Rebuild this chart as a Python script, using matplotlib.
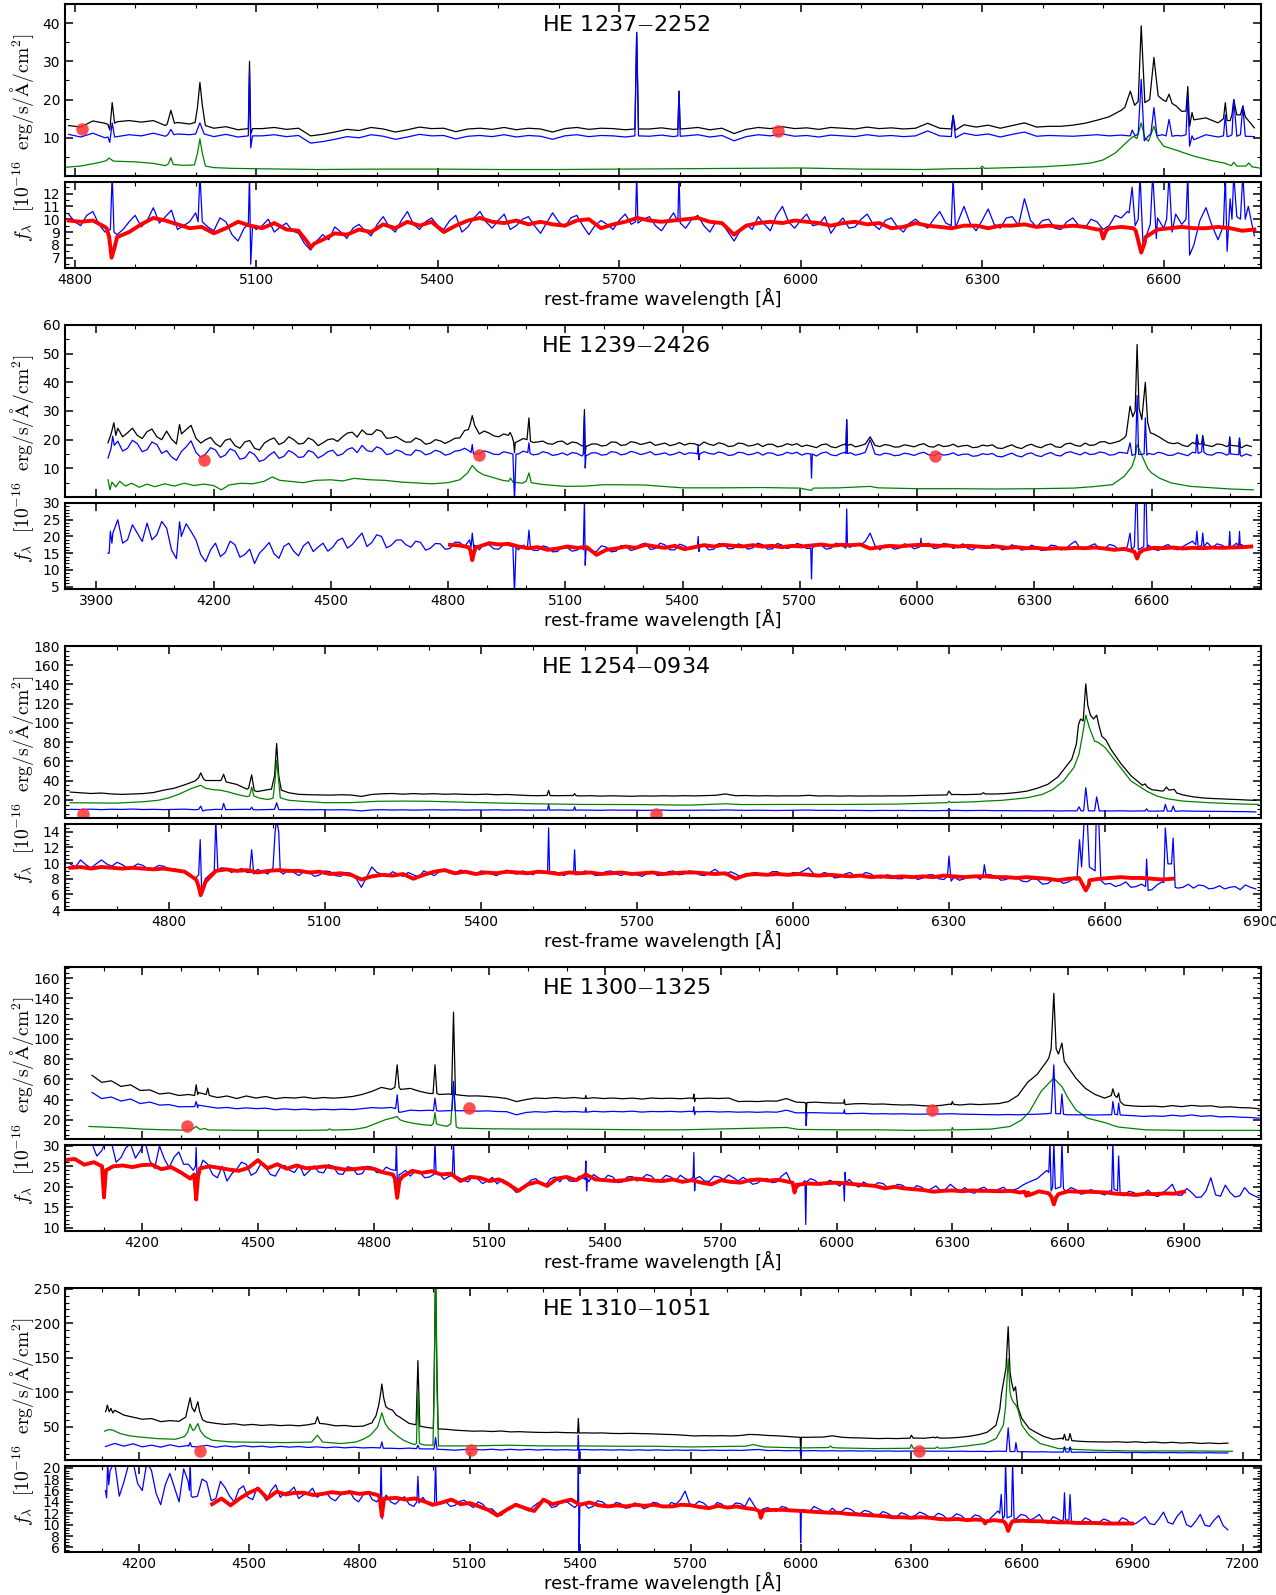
import numpy as np
import matplotlib.pyplot as plt
from matplotlib.ticker import MultipleLocator

plt.rcParams['mathtext.fontset'] = 'cm'
plt.rcParams['font.family'] = 'DejaVu Sans'

# Each noisy spectrum: values on a regular wavelength grid (start, step)
# plus groups of (wavelength, flux) points for narrow lines / dips.

# ---------------- HE 1237-2252 ----------------
p1_name = 'HE 1237$-$2252'
p1_start, p1_step, p1_res_step = 4790, 20, 10
p1_total = [
    13.2, 12.8, 14.4, 13.8, 14.2, 14.5, 14.1, 14.5, 13.2, 14.0,
    13.6, 14.5, 12.5, 12.9, 12.1, 12.5, 12.4, 12.7, 12.2, 12.5,
    10.5, 10.9, 11.5, 12.2, 11.9, 12.7, 12.3, 11.5, 12.1, 12.8,
    12.4, 12.5, 11.6, 12.3, 12.5, 12.2, 12.7, 12.1, 12.5, 12.3,
    11.5, 12.4, 12.7, 12.2, 12.5, 12.4, 12.1, 12.5, 12.3, 12.6,
    12.2, 12.4, 12.7, 12.1, 12.5, 11.1, 12.2, 12.7, 12.4, 12.9,
    12.4, 12.6, 12.2, 12.7, 12.5, 12.3, 12.8, 12.4, 12.6, 12.3,
    12.5, 13.8, 12.5, 12.4, 13.4, 12.8, 13.3, 12.5, 13.2, 13.9,
    12.8, 13.0, 13.0, 13.3, 13.8, 14.6, 15.5, 17.2, 19.5, 19.5,
    21.0, 19.0, 16.9, 14.7, 15.2, 13.9, 14.5, 15.5, 12.6]
p1_total_lines = [
    [(4855, 13.5), (4858, 12.0), (4862, 19.2), (4866, 13.8)],
    [(4953, 13.6), (4959, 17.2), (4965, 13.8)],
    [(4999, 14.0), (5003, 18.0), (5007, 24.5), (5011, 18.5), (5016, 13.2)],
    [(5087, 12.4), (5089, 30.0), (5091, 11.0), (5094, 12.4)],
    [(5726, 12.3), (5729, 37.5), (5732, 12.3)],
    [(5797, 12.3), (5799, 22.2), (5801, 12.3)],
    [(6249, 12.3), (6252, 15.9), (6256, 12.0)],
    [(6536, 18.0), (6545, 22.2), (6552, 18.5), (6558, 19.5), (6563, 39.3), (6569, 19.2),
     (6577, 20.0), (6584, 31.0), (6591, 21.0), (6598, 20.0), (6604, 19.5), (6609, 21.4),
     (6614, 19.0), (6621, 18.3)],
    [(6637, 17.0), (6640, 23.4), (6643, 13.0), (6647, 16.6)],
    [(6699, 15.0), (6702, 19.2), (6705, 14.5)],
    [(6713, 16.0), (6716, 20.0), (6721, 16.0)],
    [(6727, 16.0), (6731, 18.3), (6735, 15.5)]]
p1_host = [
    10.9, 10.2, 11.2, 10.0, 10.3, 10.8, 10.5, 11.2, 10.4, 11.0,
    10.8, 11.5, 10.3, 10.9, 10.2, 10.6, 10.5, 10.8, 10.3, 10.6,
    8.6, 9.0, 9.6, 10.3, 10.0, 10.8, 10.4, 9.6, 10.2, 10.9,
    10.5, 10.6, 9.7, 10.4, 10.6, 10.3, 10.8, 10.2, 10.6, 10.4,
    9.6, 10.5, 10.8, 10.3, 10.6, 10.5, 10.2, 10.6, 10.4, 10.7,
    10.3, 10.5, 10.8, 10.2, 10.6, 9.2, 10.3, 10.8, 10.5, 11.0,
    10.4, 10.6, 10.2, 10.7, 10.5, 10.3, 10.8, 10.4, 10.6, 10.3,
    10.5, 11.8, 10.5, 10.4, 11.2, 10.6, 11.0, 10.2, 10.9, 11.5,
    10.4, 10.6, 10.5, 10.4, 10.6, 10.8, 10.5, 10.7, 11.5, 10.0,
    11.0, 13.5, 10.5, 9.5, 10.8, 10.2, 10.5, 12.5, 10.3]
p1_host_lines = [
    [(4855, 10.2), (4858, 8.8), (4862, 13.9), (4866, 10.2)],
    [(4954, 10.8), (4959, 12.2), (4964, 10.8)],
    [(5000, 11.0), (5007, 13.9), (5014, 11.0)],
    [(5087, 10.5), (5089, 27.5), (5091, 7.4), (5094, 10.5)],
    [(5726, 10.5), (5729, 37.6), (5732, 10.5)],
    [(5797, 10.5), (5799, 22.2), (5801, 10.4)],
    [(6249, 10.3), (6252, 15.7), (6256, 10.0)],
    [(6536, 10.6), (6545, 10.5), (6548, 12.0), (6553, 10.5), (6558, 11.0), (6563, 25.3),
     (6568, 9.2), (6575, 10.5), (6579, 11.0), (6584, 17.9), (6589, 10.5), (6598, 10.8),
     (6604, 10.5), (6609, 14.8), (6614, 10.4), (6621, 10.6)],
    [(6637, 10.8), (6640, 21.0), (6643, 7.8), (6647, 10.5)],
    [(6699, 10.5), (6702, 16.0), (6705, 10.3)],
    [(6713, 10.8), (6716, 20.0), (6721, 10.4)],
    [(6727, 10.8), (6731, 18.3), (6735, 10.4)]]
p1_agn = [
    (4786, 2.3), (4810, 2.6), (4830, 3.2), (4845, 3.7), (4852, 4.0), (4857, 4.7), (4864, 3.9),
    (4880, 3.8), (4900, 3.7), (4930, 3.3), (4950, 2.7), (4955, 3.2), (4959, 4.8), (4963, 3.0),
    (4980, 2.8), (4998, 2.9), (5003, 6.0), (5007, 9.7), (5011, 6.0), (5016, 2.6), (5030, 2.2),
    (5060, 2.0), (5100, 1.9), (5200, 1.7), (5300, 1.8), (5400, 1.8), (5500, 1.7), (5600, 1.7),
    (5700, 1.8), (5800, 1.9), (5900, 2.0), (6000, 2.1), (6100, 1.8), (6200, 1.7), (6250, 1.9),
    (6297, 2.0), (6300, 2.6), (6304, 2.0), (6350, 2.2), (6400, 2.4), (6450, 2.9), (6480, 3.4),
    (6500, 4.2), (6520, 6.0), (6540, 9.0), (6550, 10.4), (6556, 9.8), (6563, 13.9), (6569, 10.0),
    (6575, 9.1), (6584, 13.0), (6590, 10.0), (6600, 7.8), (6620, 6.8), (6650, 5.2), (6680, 4.0),
    (6700, 3.4), (6712, 2.7), (6716, 3.6), (6721, 2.6), (6736, 2.6), (6741, 3.4), (6746, 2.4),
    (6758, 2.1)]
p1_res = [
    10.4, 9.8, 9.5, 10.3, 10.6, 9.6, 9.0, 9.4, 8.8, 9.2, 9.8, 10.3, 9.4, 9.9, 10.9, 9.7, 10.2, 10.7, 9.2, 9.5,
    9.8, 10.5, 10.0, 9.4, 9.1, 10.1, 9.8, 8.8, 8.3, 9.3, 9.8, 9.2, 9.5, 10.0, 9.0, 9.4, 9.7, 9.1, 8.9, 8.1,
    7.6, 8.3, 8.8, 8.4, 9.4, 9.0, 8.5, 9.3, 9.6, 9.1, 8.7, 9.6, 10.2, 9.4, 9.0, 9.9, 10.6, 9.6, 9.2, 9.8,
    10.1, 9.5, 9.2, 9.9, 10.3, 9.0, 9.4, 10.1, 10.6, 9.8, 9.3, 9.9, 10.4, 9.2, 9.5, 10.0, 10.2, 9.5, 8.9, 9.7,
    10.5, 9.8, 9.4, 10.1, 10.3, 9.5, 8.8, 9.5, 9.9, 9.6, 9.2, 9.9, 10.4, 9.6, 9.4, 10.0, 10.2, 9.5, 9.1, 9.8,
    10.5, 9.6, 9.3, 10.0, 10.3, 9.5, 9.0, 9.8, 9.7, 9.0, 8.3, 9.1, 9.6, 9.2, 10.2, 9.6, 9.1, 10.3, 11.0, 9.8,
    9.3, 9.9, 10.4, 9.5, 9.6, 10.2, 8.9, 9.6, 10.1, 9.3, 9.4, 10.0, 10.4, 9.6, 9.2, 9.9, 10.1, 9.4, 9.0, 9.7,
    10.0, 9.6, 9.3, 10.0, 10.6, 9.7, 9.0, 9.8, 11.0, 9.7, 9.1, 9.9, 10.8, 9.6, 9.3, 10.1, 10.2, 9.5, 11.6, 9.9,
    9.4, 9.9, 10.0, 9.3, 9.2, 9.8, 10.1, 9.5, 9.3, 10.0, 9.8, 9.2, 9.5, 10.3, 10.1, 10.6, 11.3, 10.0, 9.0, 9.8,
    10.1, 9.3, 12.8, 10.4, 9.6, 9.0, 8.0, 9.9, 10.9, 9.5, 8.4, 10.0, 11.6, 9.4, 10.2, 11.0, 8.7]
p1_res_lines = [
    [(4859, 9.2), (4862, 13.5), (4865, 9.0)],
    [(5004, 9.8), (5007, 13.5), (5011, 9.8)],
    [(5087, 9.6), (5089, 13.5), (5091, 6.5), (5094, 9.5)],
    [(5727, 9.8), (5729, 13.5), (5731, 9.7)],
    [(5797, 9.8), (5799, 13.5), (5801, 9.7)],
    [(6249, 9.5), (6252, 13.2), (6256, 9.3)],
    [(6543, 10.5), (6548, 12.5), (6553, 9.5), (6558, 10.0), (6561, 13.5), (6566, 8.0),
     (6578, 9.6), (6582, 13.5), (6588, 8.5)],
    [(6605, 10.0), (6609, 13.5), (6614, 9.0)],
    [(6637, 10.0), (6640, 13.5), (6643, 7.2)],
    [(6699, 9.5), (6702, 13.5), (6705, 7.5)],
    [(6713, 10.0), (6716, 13.5), (6721, 10.2)],
    [(6727, 10.0), (6731, 13.5), (6735, 10.0)]]
p1_model_start, p1_model_step = 4790, 20
p1_model = [
    9.9, 9.8, 9.9, 9.4, 8.6, 9.0, 9.6, 10.1, 9.9, 9.6,
    9.3, 9.4, 8.9, 9.3, 9.8, 9.5, 9.3, 9.7, 9.2, 9.1,
    8.0, 8.4, 8.9, 8.8, 9.2, 9.0, 9.6, 9.3, 9.8, 9.5,
    9.8, 9.0, 9.5, 9.9, 10.1, 9.8, 9.7, 9.9, 9.6, 9.8,
    9.6, 9.5, 9.9, 10.0, 9.3, 9.6, 9.8, 10.1, 9.9, 9.8,
    9.9, 10.0, 10.1, 9.8, 9.7, 8.8, 9.5, 9.7, 9.8, 9.7,
    9.9, 9.8, 9.7, 9.5, 9.7, 9.8, 9.6, 9.7, 9.3, 9.4,
    9.7, 9.5, 9.4, 9.3, 9.5, 9.5, 9.3, 9.5, 9.5, 9.6,
    9.4, 9.5, 9.4, 9.5, 9.4, 9.2, 9.3, 9.4, 9.3, 8.6,
    9.2, 9.3, 9.4, 9.3, 9.3, 9.4, 9.3, 9.1, 9.2]
p1_model_lines = [
    [(4853, 9.3), (4857, 8.6), (4861, 7.0), (4866, 7.8), (4870, 8.6)],
    [(5185, 8.2), (5190, 7.8), (5196, 8.1)],
    [(6496, 9.2), (6500, 8.5), (6505, 9.1)],
    [(6554, 9.1), (6563, 7.4), (6569, 8.2)]]
p1_dots_w = [4812, 5962]
p1_dots_f = [12.4, 11.8]

# ---------------- HE 1239-2426 ----------------
p2_name = 'HE 1239$-$2426'
p2_start, p2_step, p2_res_step = 3930, 12.5, 12.5
p2_total = [
    18.9, 22.4, 24.0, 21.0, 22.4, 24.0, 21.5, 20.4, 22.8, 23.7, 21.0, 20.0, 23.0, 20.2, 18.5, 21.6, 23.5, 25.0, 20.5, 18.8,
    20.0, 20.8, 18.6, 17.5, 19.8, 20.3, 17.9, 17.0, 19.2, 19.7, 17.0, 16.4, 18.8, 19.9, 20.6, 18.3, 19.1, 21.0, 20.0, 18.5,
    18.7, 20.6, 19.8, 17.9, 18.9, 20.0, 20.3, 19.4, 21.0, 22.3, 22.6, 20.9, 23.4, 21.9, 21.8, 23.5, 22.9, 20.5, 20.6, 21.1,
    20.0, 19.1, 19.2, 20.6, 19.9, 18.4, 18.8, 20.0, 19.6, 18.7, 19.5, 20.5, 20.6, 23.2, 24.0, 22.7, 22.0, 23.0, 22.3, 21.3,
    21.0, 22.0, 21.6, 19.9, 19.5, 20.4, 20.0, 19.0, 19.2, 19.5, 18.6, 18.4, 19.3, 19.5, 18.3, 19.2, 18.9, 17.8, 17.7, 18.5,
    18.5, 17.8, 18.0, 19.2, 19.1, 18.0, 18.2, 19.3, 19.0, 18.3, 18.7, 19.2, 18.0, 18.4, 18.8, 17.9, 18.3, 19.0, 18.1, 18.7,
    18.6, 17.9, 19.2, 18.4, 18.0, 18.9, 18.5, 17.6, 17.8, 18.8, 18.6, 17.8, 18.0, 18.6, 17.6, 18.4, 18.4, 17.5, 17.8, 18.6,
    18.1, 18.6, 17.6, 18.1, 17.7, 17.2, 18.2, 18.5, 17.5, 17.2, 18.0, 18.5, 18.4, 17.5, 17.9, 18.5, 21.0, 18.0, 17.6, 18.3,
    18.0, 17.4, 17.5, 18.2, 17.9, 17.5, 18.2, 18.6, 17.6, 17.4, 18.3, 17.6, 17.8, 18.4, 17.5, 17.9, 18.0, 17.2, 17.4, 18.1,
    17.8, 18.2, 17.1, 16.9, 17.6, 18.2, 17.3, 16.9, 17.9, 18.4, 17.6, 17.2, 18.1, 18.5, 17.5, 17.3, 18.5, 18.8, 18.0, 17.7,
    18.8, 18.0, 18.2, 19.2, 19.3, 18.6, 19.0, 19.5, 20.6, 24.0, 29.0, 31.0, 33.0, 27.0, 22.0, 21.1, 20.0, 19.0, 18.6, 18.9,
    18.0, 17.6, 19.0, 20.2, 19.4, 18.0, 17.6, 18.5, 18.3, 17.6, 18.0, 17.8, 17.2, 18.1, 17.6]
p2_total_lines = [
    [(3938, 22.0), (3945, 25.9), (3950, 21.5)],
    [(4108, 21.0), (4113, 25.3), (4118, 22.0)],
    [(4852, 23.5), (4857, 25.5), (4862, 28.4), (4868, 25.0)],
    [(4954, 21.5), (4959, 22.5), (4964, 21.0), (4968, 19.0), (4970, 15.5), (4972, 19.0)],
    [(5002, 20.0), (5007, 27.6), (5011, 19.5)],
    [(5146, 18.0), (5149, 30.5), (5151, 15.0), (5153, 17.8)],
    [(5818, 18.0), (5820, 27.0), (5822, 18.0)],
    [(6535, 21.5), (6545, 31.7), (6552, 28.0), (6558, 30.0), (6563, 53.2), (6568, 31.0),
     (6575, 27.0), (6584, 40.0), (6590, 26.0), (6597, 22.4)],
    [(6713, 18.5), (6716, 21.8), (6720, 18.5), (6728, 18.5), (6731, 21.5), (6735, 18.2)],
    [(6798, 18.0), (6800, 21.0), (6802, 18.0)],
    [(6823, 17.6), (6825, 20.5), (6827, 17.4)]]
p2_host = [
    13.6, 17.5, 19.5, 16.0, 17.0, 19.8, 18.6, 15.8, 16.5, 19.2, 18.3, 15.2, 16.2, 14.0, 12.8, 15.8, 17.5, 19.6, 15.6, 13.8,
    15.0, 17.2, 16.4, 13.8, 14.6, 16.8, 16.0, 13.2, 13.6, 15.8, 14.8, 12.4, 13.0, 14.6, 15.8, 13.5, 14.2, 16.2, 15.3, 13.8,
    14.0, 16.2, 15.6, 13.6, 14.5, 15.8, 16.3, 14.4, 15.0, 16.6, 17.2, 15.5, 18.0, 16.2, 15.8, 17.5, 16.8, 14.8, 15.2, 16.4,
    15.9, 14.8, 14.6, 16.4, 16.0, 14.7, 15.2, 16.3, 15.8, 14.6, 15.0, 16.0, 16.2, 17.0, 16.0, 15.2, 15.0, 16.1, 15.6, 14.9,
    14.8, 15.8, 15.4, 14.6, 15.0, 16.0, 15.6, 14.7, 14.9, 15.8, 15.4, 14.5, 14.8, 15.4, 14.6, 15.5, 15.2, 14.3, 14.5, 15.4,
    15.4, 14.6, 14.8, 15.8, 15.6, 14.7, 15.0, 15.9, 15.5, 14.8, 15.2, 15.8, 14.7, 15.0, 15.4, 14.6, 15.0, 15.7, 14.8, 15.4,
    15.3, 14.6, 15.8, 15.2, 14.9, 15.7, 15.3, 14.5, 14.7, 15.6, 15.4, 14.7, 15.0, 15.6, 14.6, 15.4, 15.3, 14.5, 14.8, 15.6,
    15.1, 15.6, 14.6, 15.2, 14.8, 14.3, 15.3, 15.7, 14.7, 14.4, 15.2, 15.6, 15.4, 14.6, 15.0, 15.6, 20.0, 15.0, 14.6, 15.3,
    15.0, 14.4, 14.6, 15.3, 15.0, 14.5, 15.2, 15.6, 14.7, 14.4, 15.3, 14.6, 14.8, 15.4, 14.5, 14.9, 15.0, 14.2, 14.4, 15.1,
    14.8, 15.2, 14.2, 14.0, 14.7, 15.3, 14.4, 14.0, 15.0, 15.4, 14.5, 14.1, 15.0, 15.5, 14.6, 14.3, 15.4, 15.8, 15.2, 14.7,
    15.6, 14.8, 15.0, 15.7, 15.4, 14.6, 14.8, 15.6, 15.4, 14.9, 14.5, 15.2, 16.0, 15.2, 14.8, 15.6, 15.2, 14.5, 14.6, 15.4,
    14.9, 14.4, 15.6, 16.8, 16.0, 14.8, 14.6, 15.5, 15.4, 14.6, 15.0, 14.8, 14.2, 15.0, 14.4]
p2_host_lines = [
    [(3938, 17.0), (3942, 21.2), (3946, 18.0)],
    [(4859, 15.5), (4862, 18.3), (4865, 15.0)],
    [(4966, 15.0), (4970, -1.0), (4974, 15.0)],
    [(5004, 15.5), (5007, 18.9), (5010, 15.2)],
    [(5146, 14.8), (5149, 28.2), (5151, 10.1), (5153, 14.6)],
    [(5438, 15.0), (5440, 18.3), (5442, 13.0), (5444, 15.0)],
    [(5728, 15.0), (5730, 6.6), (5732, 15.0)],
    [(5818, 15.2), (5820, 27.0), (5822, 15.2)],
    [(6538, 15.2), (6545, 18.9), (6550, 14.5), (6559, 15.0), (6563, 35.4), (6567, 14.8),
     (6581, 15.0), (6584, 27.6), (6588, 14.6)],
    [(6713, 15.4), (6716, 21.4), (6719, 15.2), (6728, 15.8), (6731, 20.5), (6734, 15.6)],
    [(6798, 15.0), (6800, 20.6), (6802, 15.0)],
    [(6823, 14.8), (6825, 20.6), (6827, 14.6)]]
p2_agn = [
    (3930, 6.0), (3935, 2.5), (3940, 5.2), (3950, 3.5), (3960, 5.5), (3975, 3.8), (3990, 4.8),
    (4010, 3.4), (4030, 4.5), (4050, 3.6), (4075, 4.6), (4100, 3.8), (4125, 4.8), (4150, 4.0),
    (4175, 4.5), (4200, 4.0), (4220, 2.5), (4240, 4.2), (4270, 4.8), (4300, 4.6), (4330, 5.5),
    (4350, 7.0), (4370, 5.8), (4400, 5.4), (4430, 5.0), (4460, 5.8), (4500, 6.0), (4530, 5.6),
    (4560, 6.5), (4600, 6.0), (4640, 5.8), (4680, 5.2), (4720, 4.9), (4760, 4.6), (4800, 5.0),
    (4830, 6.0), (4850, 8.4), (4862, 11.0), (4875, 9.0), (4890, 7.8), (4910, 7.0), (4940, 5.8),
    (4955, 5.5), (4960, 6.6), (4966, 5.2), (4990, 4.8), (5000, 5.5), (5007, 8.4), (5013, 5.0),
    (5040, 4.4), (5100, 3.7), (5150, 3.8), (5200, 4.3), (5300, 4.2), (5400, 3.2), (5500, 3.2),
    (5600, 3.3), (5700, 3.1), (5730, 2.3), (5735, 3.1), (5800, 3.2), (5880, 3.7), (5900, 3.2),
    (6000, 2.9), (6100, 2.9), (6200, 2.8), (6300, 2.9), (6400, 3.1), (6450, 3.6), (6500, 4.3),
    (6530, 7.2), (6550, 10.7), (6558, 14.0), (6563, 18.3), (6572, 15.5), (6580, 13.0),
    (6590, 10.0), (6600, 8.4), (6620, 6.6), (6650, 4.9), (6700, 3.7), (6800, 2.8), (6860, 2.5)]
p2_res = [
    15.0, 21.0, 25.0, 18.0, 19.0, 23.5, 21.0, 18.5, 24.0, 19.0, 20.5, 24.5, 22.5, 16.0, 13.4, 20.0, 23.8, 21.5, 19.0, 14.5,
    12.5, 16.0, 18.0, 14.0, 15.2, 18.6, 17.5, 13.8, 14.6, 16.2, 11.9, 15.0, 16.5, 18.2, 14.8, 13.5, 17.0, 18.0, 15.6, 14.2,
    17.2, 18.4, 15.5, 16.8, 18.0, 15.6, 16.8, 18.8, 19.5, 16.5, 17.6, 19.4, 21.0, 17.0, 18.2, 20.5, 20.0, 16.6, 17.4, 18.9,
    19.0, 17.5, 16.8, 18.6, 18.2, 15.9, 16.5, 17.9, 17.8, 16.2, 16.4, 18.3, 18.2, 17.0, 19.0, 17.4, 16.0, 17.8, 17.5, 16.3,
    16.2, 17.6, 17.3, 15.6, 16.0, 17.4, 17.0, 15.9, 15.8, 17.2, 16.8, 15.4, 15.5, 17.0, 16.6, 15.6, 15.9, 17.1, 16.2, 15.4,
    15.5, 17.2, 16.8, 15.4, 15.6, 17.3, 17.0, 15.8, 16.2, 17.6, 18.0, 16.1, 16.4, 18.0, 17.5, 16.0, 16.0, 17.7, 17.2, 16.2,
    16.5, 17.8, 17.4, 16.0, 16.2, 17.9, 17.6, 16.3, 16.4, 17.8, 17.3, 16.2, 16.6, 18.0, 17.5, 16.2, 16.3, 17.9, 17.4, 16.4,
    16.8, 17.9, 17.5, 16.4, 16.0, 17.6, 17.3, 16.2, 16.5, 18.0, 17.6, 16.5, 16.8, 17.9, 17.4, 18.5, 21.0, 17.2, 16.0, 17.4,
    17.0, 16.2, 16.5, 17.8, 17.4, 16.3, 16.8, 17.6, 18.0, 16.4, 16.6, 17.9, 17.6, 16.4, 17.0, 17.8, 16.4, 16.0, 17.3, 16.5,
    16.6, 17.6, 17.2, 16.0, 16.3, 17.5, 17.0, 15.9, 16.2, 17.4, 16.8, 15.8, 16.0, 17.4, 17.2, 16.0, 16.3, 17.6, 18.6, 16.4,
    16.5, 17.2, 17.8, 16.2, 16.4, 17.6, 17.2, 15.8, 16.0, 17.5, 17.0, 16.0, 16.8, 17.4, 16.2, 15.8, 17.0, 17.6, 16.4, 16.0,
    17.0, 17.8, 18.6, 16.8, 17.5, 18.2, 16.6, 17.8, 17.4, 16.4, 16.8, 18.0, 17.6, 16.6, 17.0]
p2_res_lines = [
    [(3933, 15.0), (3936, 21.6), (3940, 18.0)],
    [(4110, 20.0), (4113, 24.4), (4117, 21.0)],
    [(4859, 16.8), (4862, 21.0), (4866, 16.5)],
    [(4966, 17.0), (4970, 3.0), (4974, 17.0)],
    [(5003, 16.5), (5007, 21.9), (5011, 16.4)],
    [(5146, 16.0), (5149, 31.0), (5151, 11.4), (5153, 16.0)],
    [(5438, 16.8), (5440, 20.0), (5442, 15.5), (5444, 16.8)],
    [(5728, 16.5), (5730, 7.3), (5732, 16.5)],
    [(5818, 17.0), (5820, 28.2), (5822, 17.0)],
    [(6008, 17.0), (6010, 19.5), (6012, 17.0)],
    [(6538, 17.0), (6545, 21.0), (6549, 16.0), (6556, 17.0), (6560, 31.0), (6563, 31.0),
     (6566, 16.0), (6580, 17.0), (6582, 31.0), (6586, 31.0), (6589, 16.5)],
    [(6713, 17.5), (6716, 21.6), (6719, 17.0), (6728, 17.2), (6731, 21.0), (6734, 17.0)],
    [(6798, 17.0), (6800, 21.5), (6802, 16.8)],
    [(6823, 17.0), (6825, 21.5), (6827, 17.0)]]
p2_model_start, p2_model_step = 4805, 25
p2_model = [
    17.5, 17.3, 16.6, 17.0, 18.0, 17.6, 17.8, 17.0, 16.5, 16.8,
    16.0, 16.4, 17.0, 16.6, 16.8, 14.5, 16.0, 16.4, 17.0, 16.6,
    17.5, 17.0, 16.6, 17.2, 16.2, 16.8, 17.4, 17.0, 17.5, 17.2,
    17.0, 17.4, 17.0, 17.2, 16.8, 17.2, 17.0, 17.3, 17.6, 17.2,
    17.5, 17.4, 17.6, 16.4, 16.8, 17.2, 17.0, 17.3, 17.5, 17.4,
    17.2, 17.3, 17.0, 17.2, 17.0, 16.8, 17.0, 16.6, 16.8, 16.5,
    16.6, 16.3, 16.5, 16.4, 16.6, 16.5, 16.7, 16.4, 16.0, 16.3,
    15.5, 16.0, 16.6, 16.5, 16.7, 16.4, 16.6, 16.5, 16.7, 16.6,
    16.7, 16.8, 17.0]
p2_model_lines = [
    [(4852, 16.8), (4857, 16.0), (4862, 12.9), (4867, 15.5), (4872, 16.8)],
    [(6556, 15.5), (6563, 13.4), (6569, 15.2)]]
p2_dots_w = [4175, 4880, 6045]
p2_dots_f = [12.8, 14.8, 14.2]

# ---------------- HE 1254-0934 ----------------
p3_name = 'HE 1254$-$0934'
p3_start, p3_step, p3_res_step = 4610, 20, 10
p3_total = [
    28.0, 27.2, 26.5, 27.0, 26.0, 25.6, 26.0, 26.4, 27.5, 30.0,
    32.0, 35.5, 39.5, 40.0, 40.0, 38.5, 36.0, 31.0, 28.5, 30.5,
    31.0, 27.3, 25.6, 25.2, 25.0, 24.8, 25.2, 24.9, 23.5, 25.5,
    26.2, 26.5, 25.8, 26.4, 25.9, 26.3, 25.7, 26.0, 25.6, 25.4,
    25.8, 25.2, 25.5, 24.9, 24.4, 24.2, 24.5, 24.2, 24.4, 24.0,
    24.2, 23.8, 24.1, 23.8, 23.6, 24.0, 23.8, 24.1, 23.9, 24.2,
    24.0, 24.3, 24.6, 26.0, 24.2, 24.4, 24.0, 24.2, 23.9, 24.1,
    24.0, 24.6, 23.9, 24.1, 23.8, 24.0, 23.8, 24.0, 23.9, 24.1,
    24.0, 24.3, 24.5, 24.8, 25.0, 25.5, 25.3, 25.6, 26.8, 26.0,
    26.5, 27.5, 29.0, 32.0, 36.0, 44.0, 58.0, 100.0, 112.0, 95.0,
    75.0, 58.0, 45.0, 36.0, 30.5, 29.0, 30.5, 25.0, 23.0, 21.8,
    21.2, 20.8, 20.3, 19.8, 19.3]
p3_total_lines = [
    [(4853, 41.0), (4857, 43.0), (4861, 48.0), (4866, 42.0)],
    [(4900, 40.0), (4905, 46.5), (4909, 40.0)],
    [(4953, 32.0), (4959, 45.8), (4964, 29.5)],
    [(4997, 31.0), (5003, 45.0), (5007, 78.5), (5011, 45.0), (5016, 30.0)],
    [(5527, 24.5), (5530, 29.8), (5533, 24.3)],
    [(5577, 24.3), (5580, 26.3), (5583, 24.2)],
    [(6296, 25.0), (6300, 29.0), (6305, 25.3)],
    [(6362, 25.8), (6366, 27.3), (6370, 26.0)],
    [(6536, 62.0), (6545, 78.0), (6549, 98.0), (6553, 104.0), (6558, 102.0), (6563, 140.6),
     (6567, 118.0), (6572, 108.0), (6578, 104.0), (6584, 108.0), (6588, 98.0), (6594, 86.0),
     (6602, 82.0), (6612, 72.0)],
    [(6672, 35.0), (6677, 36.5), (6682, 33.0)],
    [(6713, 29.5), (6718, 33.2), (6723, 30.0), (6729, 30.5), (6733, 30.8), (6738, 27.0)]]
p3_host = [
    10.0, 9.8, 10.2, 9.7, 10.1, 9.9, 10.3, 9.8, 10.0, 9.7,
    9.9, 10.2, 9.6, 9.2, 10.0, 9.7, 9.9, 10.1, 9.5, 9.8,
    9.9, 9.6, 9.8, 9.5, 9.7, 9.4, 9.6, 9.3, 8.4, 9.4,
    9.6, 9.3, 9.5, 9.2, 9.4, 9.6, 9.3, 9.5, 9.2, 9.4,
    9.3, 9.5, 9.2, 9.4, 9.1, 9.3, 9.2, 9.4, 9.1, 9.3,
    9.2, 9.0, 9.3, 9.1, 9.2, 8.9, 9.1, 9.2, 8.9, 9.1,
    9.0, 9.2, 9.0, 9.4, 9.1, 8.9, 9.1, 9.0, 8.8, 9.0,
    9.1, 9.3, 8.9, 9.0, 8.8, 9.0, 8.9, 8.7, 8.9, 8.8,
    8.9, 8.7, 8.8, 8.6, 8.8, 9.0, 8.7, 8.8, 8.9, 8.6,
    8.7, 8.5, 8.6, 8.4, 8.6, 8.3, 8.5, 9.0, 8.6, 8.4,
    8.3, 8.5, 8.2, 8.4, 8.1, 8.3, 8.2, 8.4, 8.1, 8.0,
    7.9, 7.8, 7.7, 7.6, 7.3]
p3_host_lines = [
    [(4857, 10.0), (4861, 13.4), (4865, 8.2), (4870, 9.2)],
    [(4902, 9.8), (4905, 16.2), (4909, 9.6)],
    [(4956, 9.8), (4959, 12.3), (4962, 9.6)],
    [(5003, 10.0), (5007, 16.9), (5011, 9.7)],
    [(5528, 9.2), (5530, 15.1), (5532, 9.2)],
    [(5578, 9.2), (5580, 12.7), (5582, 9.1)],
    [(6297, 8.7), (6300, 10.9), (6304, 8.7)],
    [(6546, 8.4), (6550, 12.7), (6554, 8.4), (6559, 8.5), (6563, 32.5), (6568, 8.5),
     (6580, 8.4), (6584, 23.0), (6589, 8.2)],
    [(6677, 8.2), (6680, 10.6), (6683, 8.2)],
    [(6713, 8.2), (6716, 15.1), (6720, 8.1), (6728, 8.2), (6731, 13.4), (6735, 8.0)]]
p3_agn = [
    (4610, 16.9), (4650, 16.7), (4700, 16.5), (4750, 17.9), (4780, 19.5), (4800, 22.0),
    (4820, 26.0), (4840, 31.0), (4855, 34.0), (4861, 35.0), (4870, 32.0), (4885, 30.5),
    (4900, 29.8), (4915, 28.0), (4930, 25.6), (4950, 23.2), (4955, 24.0), (4959, 33.2),
    (4963, 24.0), (4975, 21.5), (4990, 20.3), (5000, 21.5), (5004, 40.0), (5007, 61.0),
    (5010, 45.0), (5014, 22.0), (5030, 19.5), (5050, 18.6), (5100, 16.9), (5150, 17.0),
    (5200, 18.4), (5250, 18.6), (5300, 18.4), (5400, 17.0), (5500, 15.8), (5600, 15.1),
    (5700, 15.0), (5800, 14.4), (5870, 15.8), (5900, 15.0), (6000, 15.1), (6100, 15.1),
    (6200, 15.5), (6298, 17.0), (6300, 18.5), (6303, 17.2), (6350, 17.9), (6370, 18.6),
    (6400, 19.3), (6450, 22.0), (6480, 25.6), (6500, 30.8), (6520, 39.5), (6540, 53.4),
    (6550, 67.4), (6556, 85.0), (6563, 108.0), (6570, 95.0), (6580, 81.0), (6587, 79.6),
    (6600, 74.4), (6620, 60.4), (6650, 39.5), (6680, 29.0), (6700, 23.8), (6720, 21.0),
    (6750, 18.6), (6800, 16.9), (6850, 15.8), (6895, 15.1)]
p3_res = [
    9.9, 9.5, 10.4, 9.8, 9.4, 9.9, 10.4, 9.9, 9.6, 10.1, 9.8, 9.4, 9.5, 9.9, 9.7, 9.2, 9.3, 9.7, 9.6, 9.2,
    9.3, 9.0, 8.9, 8.4, 8.0, 7.6, 8.0, 8.6, 9.0, 9.4, 9.3, 8.8, 9.1, 9.3, 8.8, 8.5, 9.2, 8.9, 8.6, 9.1,
    9.0, 8.6, 9.2, 8.8, 8.4, 9.0, 8.8, 8.3, 8.5, 9.0, 8.9, 8.4, 8.3, 8.8, 8.7, 8.0, 6.9, 8.2, 9.5, 8.8,
    8.6, 8.3, 8.9, 8.6, 8.3, 8.8, 8.5, 8.2, 9.0, 8.7, 8.4, 8.9, 9.2, 8.7, 8.6, 9.1, 9.0, 8.6, 8.5, 9.0,
    8.9, 8.6, 8.4, 8.8, 9.1, 8.7, 8.6, 9.0, 8.8, 8.5, 9.0, 8.7, 8.5, 8.9, 8.7, 8.4, 8.9, 8.6, 8.6, 9.0,
    8.8, 8.4, 8.5, 8.9, 9.0, 8.6, 8.4, 8.8, 8.7, 8.5, 8.3, 8.7, 8.8, 8.4, 8.5, 8.9, 9.0, 8.5, 8.6, 9.0,
    8.9, 8.5, 8.4, 8.8, 9.2, 8.7, 8.5, 8.9, 8.6, 8.2, 8.3, 8.7, 8.8, 8.4, 8.5, 8.9, 8.9, 8.5, 8.4, 8.8,
    8.7, 9.0, 9.4, 8.6, 8.4, 8.8, 8.6, 8.1, 8.2, 8.6, 8.8, 8.3, 8.4, 8.8, 8.6, 8.2, 8.1, 8.5, 8.4, 8.0,
    8.0, 8.4, 8.3, 7.9, 8.1, 8.5, 8.5, 8.0, 7.9, 8.3, 8.2, 7.8, 8.0, 8.4, 8.4, 7.9, 8.0, 8.5, 8.3, 7.8,
    7.9, 8.3, 8.2, 7.7, 7.6, 8.0, 7.9, 7.3, 7.4, 7.9, 7.8, 7.4, 7.6, 8.0, 8.2, 7.6, 7.7, 8.1, 7.9, 7.3,
    7.4, 7.0, 7.2, 7.6, 6.9, 7.0, 7.3, 6.8, 6.6, 7.2, 7.6, 7.0, 7.2, 6.8, 6.9, 7.3, 6.8, 7.2, 7.1, 6.7,
    6.8, 7.1, 6.7, 6.9, 7.0, 6.6, 7.2, 6.9, 6.7]
p3_res_lines = [
    [(4857, 8.5), (4860, 13.0), (4863, 6.1), (4868, 7.6)],
    [(4887, 9.0), (4890, 15.5), (4894, 9.0)],
    [(4955, 8.8), (4959, 11.7), (4963, 8.6)],
    [(5000, 9.4), (5004, 14.0), (5007, 15.5), (5011, 14.0), (5014, 8.9)],
    [(5528, 8.7), (5530, 14.5), (5532, 8.6)],
    [(5578, 8.7), (5580, 11.7), (5582, 8.5)],
    [(6297, 8.3), (6300, 10.9), (6304, 7.7)],
    [(6366, 8.6), (6368, 9.8), (6371, 8.5)],
    [(6546, 7.8), (6551, 13.0), (6555, 9.5), (6560, 15.5), (6566, 15.5), (6570, 9.5),
     (6581, 9.0), (6583, 15.5), (6588, 15.5), (6592, 7.8)],
    [(6678, 7.0), (6680, 10.5), (6683, 6.5)],
    [(6713, 7.5), (6716, 14.5), (6721, 9.9), (6728, 9.9), (6731, 13.2), (6735, 6.9)]]
p3_model_start, p3_model_step = 4610, 20
p3_model = [
    9.4, 9.5, 9.3, 9.5, 9.4, 9.3, 9.4, 9.3, 9.2, 9.3,
    9.1, 8.9, 8.0, 7.6, 9.0, 9.2, 9.0, 9.1, 8.8, 9.0,
    9.1, 9.0, 9.0, 8.8, 8.9, 8.6, 8.7, 8.5, 7.9, 8.3,
    8.5, 8.4, 8.6, 8.0, 8.5, 8.9, 9.1, 8.7, 8.9, 8.6,
    8.8, 8.7, 8.9, 8.8, 8.7, 8.9, 8.8, 8.6, 8.8, 8.7,
    8.8, 8.6, 8.7, 8.8, 8.6, 8.7, 8.8, 8.6, 8.7, 8.8,
    8.8, 8.7, 8.6, 8.7, 8.0, 8.5, 8.6, 8.5, 8.6, 8.5,
    8.6, 8.5, 8.4, 8.5, 8.4, 8.3, 8.4, 8.2, 8.3, 8.2,
    8.3, 8.2, 8.3, 8.2, 8.4, 8.3, 8.2, 8.3, 8.3, 8.2,
    8.2, 8.1, 8.2, 8.1, 8.0, 7.8, 8.0, 8.1, 7.8, 8.0,
    8.1, 8.2, 8.1, 8.1, 8.0, 7.9, 8.0]
p3_model_lines = [
    [(4853, 7.8), (4857, 7.0), (4861, 5.9), (4866, 6.8), (4870, 7.6)],
    [(6556, 7.4), (6563, 6.5), (6569, 7.2)]]
p3_dots_w = [4635, 5737]
p3_dots_f = [5.4, 5.4]

# ---------------- HE 1300-1325 ----------------
p4_name = 'HE 1300$-$1325'
p4_start, p4_step, p4_res_step = 4070, 25, 12.5
p4_total = [
    64.0, 57.0, 58.5, 53.0, 54.5, 49.0, 49.5, 45.5, 46.5, 44.0,
    45.0, 47.0, 49.0, 42.0, 43.5, 41.0, 43.5, 41.5, 43.0, 40.8,
    42.0, 41.5, 42.5, 41.0, 42.0, 41.4, 42.0, 43.0, 45.0, 48.0,
    52.0, 50.0, 50.0, 51.0, 48.0, 46.0, 45.0, 45.5, 44.5, 43.5,
    43.6, 43.0, 42.2, 41.0, 38.0, 40.0, 41.5, 41.0, 42.0, 41.2,
    42.0, 41.0, 41.8, 41.0, 41.5, 40.8, 41.4, 40.5, 41.5, 41.0,
    41.3, 40.8, 41.5, 41.0, 41.4, 41.0, 41.5, 38.0, 38.3, 38.0,
    38.6, 38.4, 41.0, 37.5, 37.0, 37.4, 36.8, 36.5, 36.6, 35.8,
    36.0, 35.4, 35.6, 35.0, 34.6, 34.8, 34.0, 33.5, 34.2, 35.5,
    34.6, 35.5, 35.0, 35.5, 36.0, 38.0, 44.0, 57.0, 65.0, 78.0,
    82.0, 75.0, 61.2, 51.0, 45.0, 41.4, 46.0, 34.5, 33.6, 33.2,
    33.5, 32.8, 34.0, 33.0, 34.2, 33.4, 33.8, 32.4, 32.8, 32.0,
    31.8, 30.9]
p4_total_lines = [
    [(4336, 44.0), (4340, 54.6), (4344, 45.0)],
    [(4366, 45.0), (4370, 51.3), (4374, 44.0)],
    [(4855, 52.0), (4861, 74.3), (4866, 52.0)],
    [(4954, 46.0), (4959, 74.3), (4964, 46.0)],
    [(5002, 45.0), (5007, 126.4), (5012, 45.0)],
    [(5348, 41.0), (5350, 44.0), (5352, 41.0)],
    [(5628, 41.0), (5630, 45.4), (5632, 38.0), (5634, 41.2)],
    [(5918, 37.0), (5920, 36.0), (5921, 26.0), (5923, 37.0)],
    [(6018, 36.5), (6020, 40.0), (6022, 35.0)],
    [(6297, 35.0), (6300, 38.0), (6303, 35.3)],
    [(6545, 78.0), (6550, 81.0), (6556, 90.0), (6563, 145.0), (6569, 90.0), (6575, 85.0),
     (6584, 95.8), (6590, 78.0)],
    [(6712, 44.0), (6716, 50.6), (6721, 44.0), (6727, 42.0), (6731, 46.4), (6735, 38.0)]]
p4_host = [
    47.0, 41.0, 42.5, 38.5, 40.5, 36.0, 37.5, 34.5, 35.0, 32.8,
    33.0, 34.5, 33.0, 31.5, 32.2, 30.9, 31.8, 31.0, 31.5, 29.9,
    30.8, 29.9, 30.6, 29.8, 30.4, 29.9, 30.5, 30.0, 31.0, 32.0,
    31.5, 32.2, 27.5, 29.5, 29.0, 29.4, 28.6, 29.0, 28.9, 29.0,
    28.5, 28.8, 28.2, 28.0, 24.9, 27.2, 28.0, 27.5, 28.4, 27.8,
    28.2, 27.6, 28.4, 27.8, 28.3, 27.9, 28.5, 27.6, 28.2, 28.0,
    28.3, 27.8, 28.4, 27.9, 28.2, 27.7, 28.0, 27.5, 27.8, 27.4,
    27.8, 27.5, 29.5, 26.8, 26.9, 27.0, 26.7, 26.6, 26.8, 26.2,
    26.4, 25.8, 26.0, 25.7, 25.9, 25.6, 25.5, 25.8, 25.7, 26.0,
    25.6, 25.4, 25.2, 25.0, 24.9, 25.2, 24.9, 25.3, 25.5, 26.0,
    26.5, 25.0, 24.9, 25.0, 24.7, 24.9, 26.0, 24.5, 24.0, 23.3,
    23.8, 23.4, 24.5, 23.6, 24.8, 23.4, 24.0, 22.8, 23.2, 22.6,
    22.3, 21.6]
p4_host_lines = [
    [(4336, 33.0), (4340, 38.0), (4344, 32.0)],
    [(4857, 31.0), (4861, 44.7), (4865, 27.5)],
    [(4955, 29.0), (4959, 41.4), (4963, 29.0)],
    [(5003, 29.0), (5007, 57.9), (5011, 29.0)],
    [(5348, 27.5), (5350, 32.0), (5352, 27.5)],
    [(5628, 28.0), (5630, 33.0), (5632, 25.0), (5634, 28.0)],
    [(5918, 27.0), (5920, 26.0), (5921, 14.4), (5923, 27.0)],
    [(6018, 26.5), (6020, 30.0), (6022, 26.0)],
    [(6556, 26.5), (6563, 74.3), (6568, 26.0), (6580, 26.0), (6584, 45.4), (6588, 25.5)],
    [(6713, 25.0), (6716, 38.1), (6721, 25.5), (6728, 25.0), (6731, 36.5), (6735, 24.8)]]
p4_agn = [
    (4062, 13.4), (4100, 12.8), (4150, 12.0), (4200, 10.8), (4250, 10.2), (4300, 9.8),
    (4330, 10.8), (4340, 13.4), (4350, 10.4), (4363, 11.5), (4370, 10.0), (4400, 9.8),
    (4500, 9.5), (4600, 9.5), (4680, 9.8), (4686, 11.0), (4692, 9.8), (4750, 10.5),
    (4780, 12.5), (4800, 15.5), (4830, 20.0), (4850, 22.0), (4861, 23.3), (4868, 20.0),
    (4880, 18.4), (4900, 16.7), (4930, 15.0), (4950, 14.4), (4955, 17.0), (4959, 27.2),
    (4963, 16.0), (4970, 15.0), (4990, 13.5), (5000, 16.0), (5004, 40.0), (5007, 57.9),
    (5010, 40.0), (5014, 13.0), (5020, 11.8), (5100, 11.1), (5200, 10.8), (5300, 10.8),
    (5500, 10.1), (5600, 10.1), (5870, 12.4), (5900, 10.5), (6000, 10.1), (6100, 10.1),
    (6200, 9.5), (6298, 10.0), (6300, 12.4), (6303, 10.0), (6400, 10.8), (6450, 13.4),
    (6480, 20.0), (6500, 28.2), (6530, 48.0), (6550, 56.2), (6563, 61.2), (6575, 56.2),
    (6584, 52.9), (6600, 41.4), (6620, 29.9), (6650, 21.6), (6700, 16.7), (6716, 14.4),
    (6731, 12.8), (6800, 10.1), (6900, 9.5), (7000, 9.5), (7094, 9.5)]
p4_res = [
    30.5, 27.5, 28.8, 31.5, 31.0, 26.0, 27.1, 29.5, 30.5, 27.0, 28.8, 31.0, 26.3, 24.5, 30.0, 26.8, 24.7, 27.2, 28.5, 25.5,
    25.5, 24.0, 23.1, 26.5, 25.5, 23.0, 22.2, 25.0, 21.4, 23.2, 24.3, 26.0, 25.5, 22.8, 23.5, 25.6, 24.8, 23.0, 22.6, 24.6,
    25.2, 24.0, 23.5, 25.3, 22.7, 23.8, 25.1, 23.6, 23.4, 25.4, 25.0, 23.2, 23.0, 24.9, 24.6, 23.0, 23.2, 25.0, 24.8, 23.5,
    23.4, 24.8, 24.2, 22.8, 23.1, 24.0, 22.6, 23.8, 23.5, 22.2, 22.4, 23.6, 23.2, 21.8, 22.5, 23.4, 22.3, 21.6, 21.2, 22.6,
    21.9, 20.8, 21.4, 22.3, 20.7, 21.8, 21.2, 19.8, 18.6, 19.5, 20.4, 21.6, 22.0, 20.8, 20.3, 21.9, 22.4, 21.2, 22.6, 21.4,
    21.3, 22.6, 22.0, 21.2, 23.0, 22.2, 21.6, 22.8, 22.4, 21.0, 21.2, 22.4, 22.5, 21.4, 22.0, 23.0, 22.6, 21.3, 21.7, 22.8,
    22.4, 21.5, 22.8, 22.0, 21.6, 22.8, 22.5, 21.4, 21.3, 22.6, 22.4, 21.8, 22.9, 22.2, 21.4, 22.3, 21.6, 20.6, 20.9, 21.8,
    22.0, 21.0, 21.2, 22.6, 23.5, 21.0, 19.5, 20.6, 21.2, 22.0, 21.5, 20.4, 20.8, 21.6, 21.0, 20.2, 21.0, 21.8, 20.6, 19.9,
    21.2, 20.4, 20.2, 21.0, 20.8, 19.8, 19.6, 20.6, 20.4, 19.5, 19.2, 20.3, 19.9, 19.0, 19.5, 20.2, 19.0, 19.4, 20.6, 19.6,
    19.0, 19.8, 18.8, 18.4, 19.5, 19.9, 18.9, 18.6, 19.4, 19.9, 18.8, 19.2, 19.6, 20.4, 21.0, 21.5, 22.0, 23.0, 24.0, 21.0,
    19.5, 18.6, 18.9, 19.8, 19.3, 18.2, 18.4, 19.3, 19.0, 18.4, 18.0, 19.0, 19.2, 18.2, 17.8, 18.9, 18.6, 17.9, 18.3, 19.2,
    18.0, 17.6, 18.5, 19.4, 20.6, 18.0, 17.9, 19.6, 18.6, 17.4, 17.5, 19.0, 22.2, 18.0, 17.7, 20.4, 18.6, 17.5, 17.8, 19.8,
    18.4, 17.8, 17.3]
p4_res_lines = [
    [(4338, 25.0), (4340, 29.6), (4342, 23.0)],
    [(4857, 24.0), (4859, 31.0), (4862, 17.8), (4866, 23.0)],
    [(4956, 23.0), (4959, 31.0), (4962, 23.0)],
    [(5004, 22.8), (5007, 31.0), (5010, 22.6)],
    [(5348, 21.8), (5350, 26.3), (5352, 19.0), (5354, 22.0)],
    [(5628, 22.4), (5630, 28.4), (5632, 19.0), (5634, 22.0)],
    [(5918, 21.5), (5920, 10.8), (5922, 21.2)],
    [(6018, 21.0), (6020, 16.5), (6022, 23.5), (6024, 20.8)],
    [(6550, 23.5), (6553, 31.0), (6556, 19.0), (6560, 20.0), (6563, 31.0), (6567, 19.5),
     (6581, 20.0), (6584, 31.0), (6588, 19.5)],
    [(6713, 19.0), (6716, 31.0), (6719, 19.4), (6728, 19.0), (6731, 27.5), (6735, 18.0)]]
p4_model_start, p4_model_step = 4000, 25
p4_model = [
    26.5, 26.8, 25.4, 26.0, 24.7, 25.0, 25.2, 24.8, 25.3, 25.4,
    24.3, 24.8, 23.5, 22.0, 24.5, 25.0, 24.6, 24.2, 23.9, 24.6,
    26.5, 24.5, 25.5, 24.4, 25.2, 24.5, 24.7, 25.0, 24.6, 24.2,
    24.3, 24.6, 24.4, 23.5, 23.0, 22.5, 23.9, 23.4, 23.8, 23.0,
    23.2, 21.4, 22.4, 22.2, 21.4, 21.8, 20.6, 19.0, 20.6, 21.2,
    20.2, 22.0, 22.4, 21.6, 23.0, 21.8, 21.6, 21.4, 21.6, 22.0,
    21.8, 21.5, 21.4, 21.8, 21.2, 21.6, 21.0, 20.6, 21.6, 21.2,
    21.0, 21.6, 21.8, 21.5, 21.7, 21.2, 20.5, 20.8, 20.7, 20.9,
    21.0, 20.8, 20.6, 20.4, 20.2, 19.6, 20.0, 19.6, 19.4, 19.2,
    18.8, 19.0, 19.1, 18.9, 19.1, 19.0, 19.0, 18.9, 19.0, 18.6,
    18.0, 18.9, 18.4, 18.2, 18.9, 18.8, 18.8, 18.7, 18.6, 18.3,
    18.2, 18.0, 18.3, 18.2, 18.4, 18.3, 18.8]
p4_model_lines = [
    [(4096, 25.0), (4101, 17.4), (4106, 24.0)],
    [(4335, 23.0), (4340, 16.9), (4345, 22.5)],
    [(4855, 22.0), (4861, 17.3), (4867, 21.5)],
    [(5886, 21.0), (5891, 18.6), (5896, 20.5)],
    [(6487, 18.8), (6492, 17.8), (6497, 18.6)],
    [(6557, 17.5), (6563, 15.7), (6569, 17.4)]]
p4_dots_w = [4316, 5047, 6248]
p4_dots_f = [14.0, 31.3, 29.4]

# ---------------- HE 1310-1051 ----------------
p5_name = 'HE 1310$-$1051'
p5_start, p5_step, p5_res_step = 4110, 25, 12.5
p5_total = [
    72.0, 74.0, 67.0, 64.0, 61.0, 62.0, 57.5, 59.0, 58.0, 68.0,
    75.0, 57.0, 55.0, 53.5, 54.5, 52.5, 53.5, 52.0, 53.0, 51.8,
    52.5, 51.5, 53.0, 58.0, 54.0, 51.5, 52.0, 50.5, 51.0, 56.0,
    90.0, 76.0, 64.0, 55.0, 52.0, 49.0, 60.0, 46.5, 45.2, 44.5,
    43.7, 44.0, 43.2, 44.0, 42.7, 43.0, 42.4, 42.0, 41.8, 42.2,
    41.6, 41.4, 41.3, 41.0, 41.2, 40.5, 40.3, 40.6, 40.3, 40.0,
    39.5, 38.9, 38.6, 37.8, 36.8, 37.2, 37.0, 37.2, 36.8, 37.5,
    39.0, 38.5, 37.5, 37.0, 36.2, 35.2, 34.8, 35.0, 35.2, 37.0,
    35.0, 34.2, 34.0, 33.4, 33.0, 33.3, 33.0, 33.5, 33.8, 33.4,
    35.0, 33.6, 34.0, 35.0, 36.5, 39.0, 44.0, 56.0, 150.0, 100.0,
    55.0, 43.0, 36.0, 32.0, 33.5, 34.0, 29.0, 28.4, 28.2, 28.0,
    28.4, 27.6, 28.4, 27.2, 28.0, 26.8, 27.6, 26.5, 27.2, 26.0,
    26.6, 25.8, 26.4]
p5_total_lines = [
    [(4112, 74.0), (4115, 81.5), (4120, 72.0), (4125, 76.6), (4130, 70.0)],
    [(4328, 64.0), (4335, 80.0), (4340, 92.1), (4345, 78.0), (4352, 71.8), (4357, 80.0),
     (4361, 86.3), (4366, 72.0), (4374, 60.0)],
    [(4680, 55.0), (4686, 64.5), (4692, 55.0)],
    [(4836, 58.0), (4845, 66.0), (4852, 80.0), (4857, 96.0), (4861, 112.0), (4866, 92.0),
     (4872, 79.0), (4880, 76.0), (4890, 74.2), (4900, 67.0)],
    [(4954, 53.0), (4959, 145.9), (4964, 51.0)],
    [(5001, 48.0), (5004, 150.0), (5007, 280.0), (5010, 150.0), (5014, 47.0)],
    [(5393, 41.0), (5395, 62.0), (5397, 41.0)],
    [(5996, 35.0), (5998, 34.5), (5999, 9.0), (6001, 35.0)],
    [(6296, 33.5), (6300, 37.9), (6305, 33.5)],
    [(6366, 34.0), (6370, 35.5), (6374, 34.0)],
    [(6505, 42.0), (6520, 48.0), (6530, 52.4), (6540, 75.0), (6545, 98.4), (6552, 120.0),
     (6557, 135.0), (6563, 195.0), (6568, 130.0), (6572, 115.0), (6578, 102.0), (6583, 108.0),
     (6589, 79.0), (6600, 62.1), (6620, 47.6)],
    [(6712, 32.0), (6716, 39.3), (6720, 31.0), (6727, 31.0), (6731, 40.3), (6736, 30.0)]]
p5_host = [
    21.5, 26.0, 22.0, 25.5, 21.0, 23.5, 20.6, 24.0, 21.2, 23.0,
    21.0, 23.2, 20.5, 22.4, 20.8, 22.6, 21.0, 22.0, 20.4, 21.8,
    20.6, 21.5, 20.2, 21.0, 19.8, 20.8, 19.6, 20.5, 19.5, 20.0,
    19.5, 19.0, 18.5, 19.2, 18.6, 18.0, 18.0, 17.0, 16.2, 17.2,
    17.4, 16.6, 17.6, 16.4, 17.5, 16.5, 17.3, 16.4, 17.2, 16.5,
    17.0, 16.3, 17.2, 16.6, 16.9, 16.3, 16.8, 16.2, 16.7, 16.1,
    16.6, 16.0, 16.5, 16.0, 16.4, 15.8, 16.3, 15.9, 16.2, 15.8,
    16.6, 17.2, 15.7, 15.9, 15.4, 15.7, 15.3, 15.6, 15.2, 15.5,
    15.0, 15.4, 14.9, 15.2, 14.8, 15.1, 14.7, 15.0, 14.8, 15.0,
    14.6, 14.9, 14.5, 14.8, 14.3, 14.6, 14.2, 14.8, 14.5, 14.4,
    14.0, 13.7, 13.9, 13.4, 13.6, 13.2, 13.4, 13.0, 13.3, 12.9,
    13.2, 12.7, 13.0, 12.6, 12.9, 12.5, 12.8, 12.4, 12.7, 12.3,
    12.6, 12.2, 12.3]
p5_host_lines = [
    [(4336, 22.0), (4340, 27.2), (4344, 21.5)],
    [(4857, 19.5), (4861, 28.2), (4865, 19.0)],
    [(4955, 18.5), (4959, 23.4), (4963, 18.2)],
    [(5003, 18.0), (5007, 34.5), (5011, 17.5)],
    [(5393, 16.5), (5395, 37.9), (5397, 4.0), (5399, 16.8)],
    [(5996, 15.6), (5998, 15.3), (5999, 8.8), (6001, 15.4)],
    [(6558, 14.5), (6563, 48.5), (6568, 14.2), (6581, 14.3), (6584, 27.2), (6588, 14.1)],
    [(6713, 13.6), (6716, 21.0), (6720, 13.4), (6728, 13.4), (6731, 21.0), (6735, 13.2)]]
p5_agn = [
    (4108, 43.7), (4118, 46.0), (4130, 45.2), (4150, 40.3), (4175, 37.0), (4200, 35.5),
    (4250, 33.0), (4300, 32.0), (4325, 36.0), (4333, 42.0), (4340, 53.9), (4347, 45.0),
    (4352, 46.0), (4361, 54.8), (4368, 44.0), (4380, 36.0), (4400, 30.6), (4450, 28.2),
    (4500, 27.8), (4600, 27.2), (4670, 28.0), (4686, 37.9), (4700, 28.0), (4750, 25.8),
    (4790, 28.0), (4810, 32.0), (4830, 37.9), (4850, 50.0), (4861, 70.3), (4870, 55.0),
    (4880, 47.0), (4890, 42.7), (4905, 36.0), (4920, 30.6), (4940, 26.0), (4950, 24.3),
    (4955, 26.0), (4959, 102.0), (4963, 26.0), (4975, 23.8), (5000, 23.4), (5003, 100.0),
    (5007, 300.0), (5011, 100.0), (5015, 22.4), (5050, 22.4), (5100, 22.4), (5200, 23.4),
    (5300, 22.4), (5400, 22.4), (5500, 21.9), (5600, 21.9), (5700, 20.9), (5850, 22.0),
    (5870, 24.3), (5890, 22.0), (5900, 20.9), (6000, 19.5), (6075, 20.0), (6080, 22.4),
    (6085, 20.0), (6100, 19.5), (6200, 18.5), (6296, 19.0), (6300, 24.3), (6305, 19.0),
    (6365, 19.0), (6370, 21.0), (6375, 19.0), (6400, 19.5), (6450, 22.4), (6500, 25.8),
    (6530, 33.0), (6550, 52.4), (6556, 80.0), (6563, 149.0), (6568, 100.0), (6572, 91.0),
    (6578, 85.0), (6584, 81.5), (6590, 74.2), (6600, 52.4), (6620, 37.9), (6650, 25.8),
    (6700, 18.5), (6712, 18.5), (6716, 20.5), (6720, 18.3), (6727, 18.0), (6731, 20.0),
    (6736, 17.5), (6800, 16.1), (6900, 15.1), (7000, 15.1), (7100, 15.0), (7172, 14.6)]
p5_res = [
    16.0, 19.5, 21.0, 15.0, 17.5, 20.5, 21.0, 17.2, 16.0, 21.0, 19.5, 15.5, 13.5, 17.0, 19.0, 16.5, 14.0, 19.8, 17.5, 14.8,
    15.0, 18.0, 17.5, 14.2, 14.6, 17.6, 16.5, 15.0, 14.0, 16.2, 16.8, 14.8, 14.4, 16.6, 15.5, 14.2, 16.0, 17.0, 14.8, 15.6,
    15.8, 16.6, 14.6, 15.2, 15.5, 16.4, 14.8, 15.4, 15.6, 14.6, 14.2, 15.2, 15.4, 16.0, 14.6, 14.0, 15.2, 15.8, 14.4, 14.0,
    14.6, 15.2, 14.0, 13.6, 14.4, 14.9, 13.6, 13.2, 14.2, 14.8, 13.7, 13.3, 13.2, 13.8, 14.0, 13.2, 13.4, 14.1, 14.3, 13.5,
    13.0, 14.0, 13.6, 12.6, 12.8, 12.0, 11.6, 12.4, 12.8, 13.6, 13.4, 12.8, 12.4, 13.2, 13.8, 14.2, 14.0, 13.0, 13.2, 14.0,
    14.2, 13.6, 13.0, 13.6, 13.8, 12.9, 13.2, 14.2, 14.0, 13.4, 13.1, 13.9, 13.7, 12.9, 13.0, 13.8, 13.6, 12.8, 13.1, 13.9,
    13.8, 13.2, 13.0, 13.9, 13.6, 14.4, 15.9, 13.6, 13.4, 14.1, 13.8, 13.1, 13.0, 13.9, 13.6, 12.9, 13.1, 13.8, 13.7, 13.2,
    14.7, 13.4, 12.2, 12.8, 13.0, 12.5, 12.4, 13.2, 13.0, 12.3, 12.5, 13.1, 12.6, 12.2, 13.2, 12.8, 12.4, 12.0, 12.9, 12.2,
    12.3, 12.9, 12.7, 12.1, 11.9, 12.5, 12.3, 11.8, 11.6, 12.3, 12.0, 11.5, 11.4, 12.1, 11.8, 11.3, 11.6, 12.2, 11.9, 11.4,
    11.3, 12.0, 11.7, 11.0, 11.2, 11.9, 11.6, 10.9, 11.0, 11.7, 11.5, 10.7, 10.8, 11.6, 12.4, 11.8, 11.0, 11.5, 11.0, 11.8,
    11.6, 10.8, 11.2, 11.8, 10.6, 10.2, 11.4, 11.0, 10.6, 11.3, 10.9, 10.3, 10.4, 11.2, 10.8, 10.1, 10.4, 11.0, 10.7, 10.2,
    10.3, 11.2, 10.9, 10.0, 10.2, 10.8, 11.4, 10.2, 10.0, 11.0, 12.2, 10.4, 10.1, 11.5, 12.4, 10.0, 9.6, 10.6, 11.8, 9.9,
    9.7, 10.8, 11.6, 9.8, 9.1]
p5_res_lines = [
    [(4113, 14.7), (4116, 21.0), (4119, 17.0)],
    [(4338, 16.0), (4340, 21.0), (4343, 15.0)],
    [(4857, 15.0), (4859, 21.0), (4862, 11.0), (4866, 14.0)],
    [(4956, 14.0), (4959, 18.5), (4962, 13.8)],
    [(5004, 13.5), (5007, 21.0), (5010, 13.5)],
    [(5393, 13.5), (5395, 21.0), (5397, 5.0), (5399, 13.5)],
    [(5996, 12.6), (5998, 12.5), (5999, 6.8), (6001, 12.6)],
    [(6540, 12.0), (6544, 15.3), (6548, 11.0), (6553, 11.5), (6556, 21.0), (6560, 11.2),
     (6572, 11.5), (6575, 21.0), (6579, 11.0)],
    [(6713, 11.0), (6716, 15.6), (6719, 10.8), (6728, 10.8), (6731, 15.3), (6735, 10.6)]]
p5_model_start, p5_model_step = 4400, 25
p5_model = [
    13.6, 14.6, 13.4, 14.6, 15.6, 16.3, 14.6, 15.8, 15.3, 15.6,
    15.6, 15.2, 15.4, 15.7, 15.5, 15.7, 15.4, 15.6, 15.2, 14.6,
    14.7, 14.4, 14.6, 14.1, 13.5, 13.9, 14.4, 13.6, 13.8, 13.2,
    12.6, 11.6, 12.6, 13.5, 12.9, 12.4, 14.4, 13.6, 14.0, 14.4,
    13.5, 13.9, 13.4, 13.2, 13.4, 13.2, 13.5, 13.3, 13.5, 13.2,
    13.2, 13.5, 13.4, 13.1, 12.9, 13.3, 13.0, 13.2, 12.9, 12.7,
    12.5, 12.6, 12.6, 12.5, 12.4, 12.3, 12.2, 12.1, 12.1, 11.9,
    11.8, 11.7, 11.6, 11.5, 11.3, 11.3, 11.2, 11.3, 11.2, 11.0,
    10.9, 11.0, 10.8, 10.9, 10.5, 10.8, 10.6, 10.6, 10.7, 10.6,
    10.6, 10.5, 10.4, 10.4, 10.3, 10.3, 10.3, 10.2, 10.2, 10.2,
    10.2]
p5_model_lines = [
    [(4855, 14.8), (4861, 11.5), (4867, 14.6)],
    [(5886, 12.4), (5891, 11.2), (5896, 12.2)],
    [(6495, 10.8), (6500, 10.2), (6505, 10.6)],
    [(6556, 10.2), (6563, 8.9), (6570, 10.1)]]
p5_dots_w = [4366, 5104, 6321]
p5_dots_f = [14.6, 17.0, 14.6]


def spectrum(start, step, values, lines):
    w = start + step * np.arange(len(values))
    f = np.asarray(values, dtype=float)
    keep = np.ones(len(w), dtype=bool)
    for grp in lines:
        keep &= ~((w >= grp[0][0]) & (w <= grp[-1][0]))
    pts = list(zip(w[keep], f[keep])) + [p for grp in lines for p in grp]
    pts.sort(key=lambda p: p[0])
    x, y = zip(*pts)
    return np.array(x), np.array(y)


panels = [
    dict(name=p1_name, start=p1_start, step=p1_step, rstep=p1_res_step,
         total=p1_total, total_l=p1_total_lines, host=p1_host, host_l=p1_host_lines,
         agn=p1_agn, res=p1_res, res_l=p1_res_lines,
         m0=p1_model_start, mstep=p1_model_step, model=p1_model, model_l=p1_model_lines,
         dw=p1_dots_w, df=p1_dots_f,
         xlim=(4784, 6761), xt=range(4800, 6700, 300),
         ylim=(0, 45), yt=[10, 20, 30, 40], ymin=5,
         ylim2=(6.2, 12.9), yt2=[7, 8, 9, 10, 11, 12], ymin2=0.5),
    dict(name=p2_name, start=p2_start, step=p2_step, rstep=p2_res_step,
         total=p2_total, total_l=p2_total_lines, host=p2_host, host_l=p2_host_lines,
         agn=p2_agn, res=p2_res, res_l=p2_res_lines,
         m0=p2_model_start, mstep=p2_model_step, model=p2_model, model_l=p2_model_lines,
         dw=p2_dots_w, df=p2_dots_f,
         xlim=(3820, 6880), xt=range(3900, 6700, 300),
         ylim=(0, 60), yt=[10, 20, 30, 40, 50, 60], ymin=5,
         ylim2=(4.3, 30), yt2=[5, 10, 15, 20, 25, 30], ymin2=1),
    dict(name=p3_name, start=p3_start, step=p3_step, rstep=p3_res_step,
         total=p3_total, total_l=p3_total_lines, host=p3_host, host_l=p3_host_lines,
         agn=p3_agn, res=p3_res, res_l=p3_res_lines,
         m0=p3_model_start, mstep=p3_model_step, model=p3_model, model_l=p3_model_lines,
         dw=p3_dots_w, df=p3_dots_f,
         xlim=(4600, 6900), xt=range(4800, 7000, 300),
         ylim=(1, 180), yt=list(range(20, 181, 20)), ymin=5,
         ylim2=(4, 15), yt2=[4, 6, 8, 10, 12, 14], ymin2=0.5),
    dict(name=p4_name, start=p4_start, step=p4_step, rstep=p4_res_step,
         total=p4_total, total_l=p4_total_lines, host=p4_host, host_l=p4_host_lines,
         agn=p4_agn, res=p4_res, res_l=p4_res_lines,
         m0=p4_model_start, mstep=p4_model_step, model=p4_model, model_l=p4_model_lines,
         dw=p4_dots_w, df=p4_dots_f,
         xlim=(4000, 7100), xt=range(4200, 7000, 300),
         ylim=(1, 171), yt=list(range(20, 161, 20)), ymin=5,
         ylim2=(9.2, 30.2), yt2=[10, 15, 20, 25, 30], ymin2=1),
    dict(name=p5_name, start=p5_start, step=p5_step, rstep=p5_res_step,
         total=p5_total, total_l=p5_total_lines, host=p5_host, host_l=p5_host_lines,
         agn=p5_agn, res=p5_res, res_l=p5_res_lines,
         m0=p5_model_start, mstep=p5_model_step, model=p5_model, model_l=p5_model_lines,
         dw=p5_dots_w, df=p5_dots_f,
         xlim=(4000, 7250), xt=range(4200, 7300, 300),
         ylim=(2, 251), yt=[50, 100, 150, 200, 250], ymin=10,
         ylim2=(5.2, 20.3), yt2=[6, 8, 10, 12, 14, 16, 18, 20], ymin2=0.5),
]

W, H = 1276, 1595
fig = plt.figure(figsize=(W / 100, H / 100), dpi=100)
left, right = 65, 1261
tops = [4, 325, 646, 967, 1288]
ylab = r'$f_\lambda\ \ [10^{-16}\ \ \mathrm{erg/s/\AA/cm^2}]$'


def style(ax):
    for s in ax.spines.values():
        s.set_linewidth(1.5)
    ax.tick_params(which='both', direction='in', top=True, right=True, labelsize=10)
    ax.tick_params(which='major', length=6, width=1.1)
    ax.tick_params(which='minor', length=3, width=0.8)
    ax.xaxis.set_minor_locator(MultipleLocator(100))


for top, p in zip(tops, panels):
    ax1 = fig.add_axes([left / W, 1 - (top + 172) / H, (right - left) / W, 172 / H])
    ax2 = fig.add_axes([left / W, 1 - (top + 264) / H, (right - left) / W, 86 / H])

    x, y = spectrum(p['start'], p['step'], p['total'], p['total_l'])
    ax1.plot(x, y, color='k', lw=0.9)
    aw, af = zip(*p['agn'])
    ax1.plot(aw, af, color='g', lw=0.9)
    x, y = spectrum(p['start'], p['step'], p['host'], p['host_l'])
    ax1.plot(x, y, color='b', lw=0.9)
    ax1.plot(p['dw'], p['df'], 'o', color='#ff3030', ms=9, alpha=0.85, mec='none')

    x, y = spectrum(p['start'], p['rstep'], p['res'], p['res_l'])
    ax2.plot(x, y, color='b', lw=0.9)
    x, y = spectrum(p['m0'], p['mstep'], p['model'], p['model_l'])
    ax2.plot(x, y, color='r', lw=2.8)

    for ax in (ax1, ax2):
        ax.set_xlim(*p['xlim'])
        ax.set_xticks(list(p['xt']))
        style(ax)
    ax1.set_ylim(*p['ylim'])
    ax1.set_yticks(p['yt'])
    ax1.yaxis.set_minor_locator(MultipleLocator(p['ymin']))
    ax1.tick_params(labelbottom=False)
    ax2.set_ylim(*p['ylim2'])
    ax2.set_yticks(p['yt2'])
    ax2.yaxis.set_minor_locator(MultipleLocator(p['ymin2']))

    ax1.text(0.469, 1 - 21 / 172, p['name'], transform=ax1.transAxes,
             ha='center', va='center', fontsize=16)
    ax2.set_xlabel('rest-frame wavelength [Å]', fontsize=13, labelpad=0.5)
    fig.text(22 / W, 1 - (top + 134) / H, ylab, rotation=90,
             ha='center', va='center', fontsize=14)

fig.savefig('out.png', dpi=100)
